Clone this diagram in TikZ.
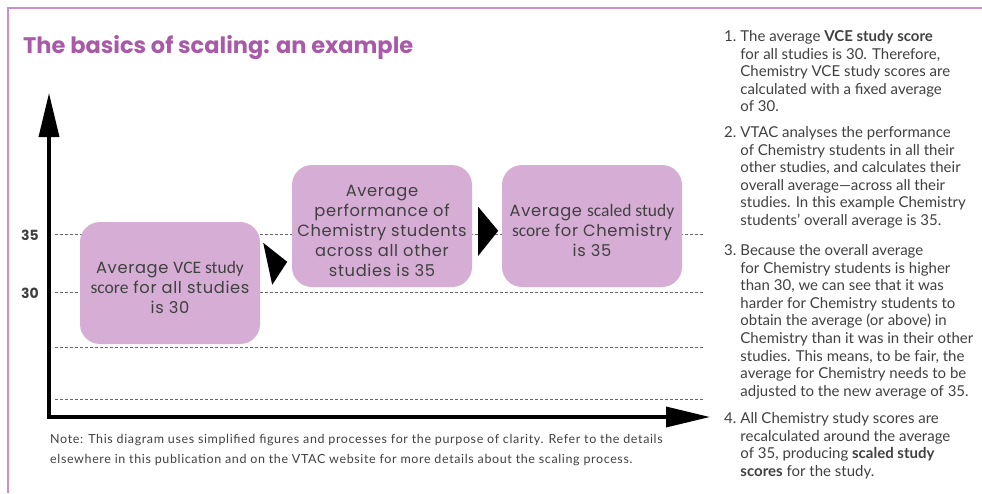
\documentclass[tikz,border=0pt]{standalone}
\usepackage{fontspec}
\setmainfont{Lato}
\newfontfamily\headfont{Poppins}
\newfontfamily\boxfont[LetterSpace=4]{Poppins}
\newfontfamily\narrowfont{Carlito}
\newfontfamily\notefont[LetterSpace=5]{Lato}
\usetikzlibrary{arrows.meta,calc}

\definecolor{framepink}{HTML}{CC8FCB}
\definecolor{titlepurple}{HTML}{A85AA8}
\definecolor{boxfill}{HTML}{D6AED5}
\definecolor{bodygray}{HTML}{404040}

\newcommand\narrowword[1]{{\narrowfont\fontsize{17.5}{20}\selectfont #1}}
% extra room above the first line, so the lines sit a little low in the box
\newcommand\toproom{\rule{0pt}{22pt}}

\begin{document}
\begin{tikzpicture}[x=1pt,y=-1pt,>={Triangle[length=44pt,width=20pt]},
  scorebox/.style={fill=boxfill,rounded corners=20pt,minimum width=180pt,
    minimum height=122pt,align=center,text=bodygray,
    font=\boxfont\fontsize{16.3}{20}\selectfont},
  level/.style={gray!80!black,line width=0.8pt,dash pattern=on 3pt off 2pt},
  listitem/.style={anchor=north west,inner sep=0pt,text=bodygray,
    font=\fontsize{15}{17.6}\selectfont}]
\useasboundingbox (0,0) rectangle (982,493);

% frame and heading
\draw[framepink,line width=2pt] (982,8) -- (8,8) -- (8,493);
\node[anchor=base west,inner sep=0pt,text=titlepurple,font=\headfont\bfseries\fontsize{22.5}{26}\selectfont]
  (title) at (23,53) {The basics of scaling: an example};

% score levels
\foreach \y in {234,292,347,399}
  \draw[level] (55,\y) -- (703,\y);
\node[font=\headfont\bfseries\fontsize{14}{16}\selectfont,text=bodygray] (lab35) at (30,235) {35};
\node[font=\headfont\bfseries\fontsize{14}{16}\selectfont,text=bodygray] (lab30) at (30,293) {30};

% axes
\draw[<->,line width=3.5pt] (49,93) -- (49,417) -- (710,417);

% the three steps
\node[scorebox] (allavg) at (170,283)
  {\toproom Average \narrowword{VCE study}\\ \narrowword{score} for all studies\\ is 30};
\node[scorebox] (chemother) at (382,226)
  {\toproom Average\\ performance of\\ Chemistry students\\ across all other\\ studies is 35};
\node[scorebox] (chemscaled) at (592,226)
  {\toproom Average \narrowword{scaled study}\\ \narrowword{score} for Chemistry\\ is 35};

\fill ($(allavg.north east)+(3,21)$) -- ($(allavg.north east)+(27,40)$)
  -- ($(allavg.north east)+(12,63)$) -- cycle;
\fill ($(chemother.north east)+(6,42)$) -- ($(chemother.north east)+(26,66)$)
  -- ($(chemother.north east)+(6,91)$) -- cycle;

\node[anchor=north west,align=left,inner sep=0pt,text=bodygray,font=\notefont\fontsize{12.5}{20}\selectfont]
  (note) at (50,434) {Note: This diagram uses simplified figures and processes for the purpose of clarity. Refer to the details\\
  elsewhere in this publication and on the VTAC website for more details about the scaling process.};

% numbered explanation
\node[listitem] (step1) at (724,29) {\begin{tabular}{@{}l@{\hspace{4pt}}l@{}}
1. & The average \textbf{VCE study score}\\
 & for all studies is 30. Therefore,\\
 & Chemistry VCE study scores are\\
 & calculated with a fixed average\\
 & of 30.
\end{tabular}};
\node[listitem] (step2) at (724,125) {\begin{tabular}{@{}l@{\hspace{4pt}}l@{}}
2. & VTAC analyses the performance\\
 & of Chemistry students in all their\\
 & other studies, and calculates their\\
 & overall average---across all their\\
 & studies. In this example Chemistry\\
 & students' overall average is 35.
\end{tabular}};
\node[listitem] (step3) at (724,243) {\begin{tabular}{@{}l@{\hspace{4pt}}l@{}}
3. & Because the overall average\\
 & for Chemistry students is higher\\
 & than 30, we can see that it was\\
 & harder for Chemistry students to\\
 & obtain the average (or above) in\\
 & Chemistry than it was in their other\\
 & studies. This means, to be fair, the\\
 & average for Chemistry needs to be\\
 & adjusted to the new average of 35.
\end{tabular}};
\node[listitem] (step4) at (724,411) {\begin{tabular}{@{}l@{\hspace{4pt}}l@{}}
4. & All Chemistry study scores are\\
 & recalculated around the average\\
 & of 35, producing \textbf{scaled study}\\
 & \textbf{scores} for the study.
\end{tabular}};
\end{tikzpicture}
\end{document}
